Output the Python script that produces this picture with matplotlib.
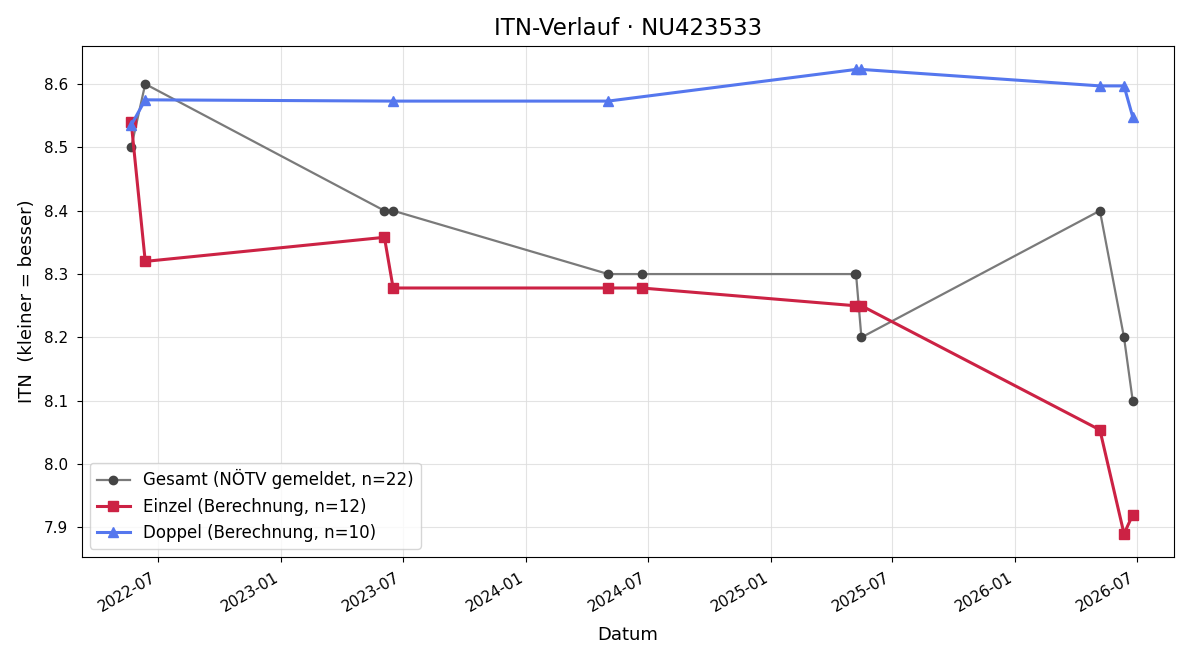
import matplotlib as mpl
mpl.use('Agg')
import numpy as np
import pandas as pd
import matplotlib.pyplot as plt
import matplotlib.dates as mdates

gesamt_dates = ['2022-05-22', '2022-06-12', '2023-06-04', '2023-06-17', '2024-05-03', '2024-06-22',
                '2025-05-07', '2025-05-08', '2025-05-16', '2026-05-07', '2026-06-12', '2026-06-25']
gesamt_itn = [8.5, 8.6, 8.4, 8.4, 8.3, 8.3, 8.3, 8.3, 8.2, 8.4, 8.2, 8.1]

einzel_dates = ['2022-05-22', '2022-06-12', '2023-06-04', '2023-06-17', '2024-05-03', '2024-06-22',
                '2025-05-07', '2025-05-16', '2026-05-07', '2026-06-12', '2026-06-25']
einzel_itn = [8.54, 8.32, 8.358, 8.278, 8.278, 8.278, 8.25, 8.25, 8.054, 7.89, 7.92]

doppel_dates = ['2022-05-22', '2022-06-12', '2023-06-17', '2024-05-03', '2025-05-08', '2025-05-16',
                '2026-05-07', '2026-06-12', '2026-06-25']
doppel_itn = [8.535, 8.575, 8.573, 8.573, 8.623, 8.623, 8.597, 8.597, 8.548]

fig, ax = plt.subplots(figsize=(12, 6.6), dpi=100)

ax.plot(pd.to_datetime(gesamt_dates), gesamt_itn, '-o', color='#7a7a7a', lw=1.6,
        markerfacecolor='#444444', markeredgecolor='#444444', markersize=6,
        label='Gesamt (NÖTV gemeldet, n=22)')
ax.plot(pd.to_datetime(einzel_dates), einzel_itn, '-s', color='#cc2244', lw=2.2,
        markersize=7, label='Einzel (Berechnung, n=12)')
ax.plot(pd.to_datetime(doppel_dates), doppel_itn, '-^', color='#5577ee', lw=2.2,
        markersize=7, label='Doppel (Berechnung, n=10)')

ax.set_xlim(pd.Timestamp('2022-03-09'), pd.Timestamp('2026-08-25'))
ax.xaxis.set_major_locator(mdates.MonthLocator(bymonth=[1, 7]))
ax.xaxis.set_major_formatter(mdates.DateFormatter('%Y-%m'))
ax.grid(True, color='#dddddd', lw=0.8, alpha=0.8)
ax.set_title('ITN-Verlauf · NU423533', fontsize=16.5, pad=8)
ax.set_ylabel('ITN  (kleiner = besser)', fontsize=13, labelpad=6)
ax.set_xlabel('Datum', fontsize=13, labelpad=8)
ax.tick_params(labelsize=11, pad=6)
ax.legend(loc='lower left', fontsize=12)
fig.autofmt_xdate()
plt.subplots_adjust(left=0.068, right=0.978, top=0.93, bottom=0.156)
plt.savefig('out.png')
